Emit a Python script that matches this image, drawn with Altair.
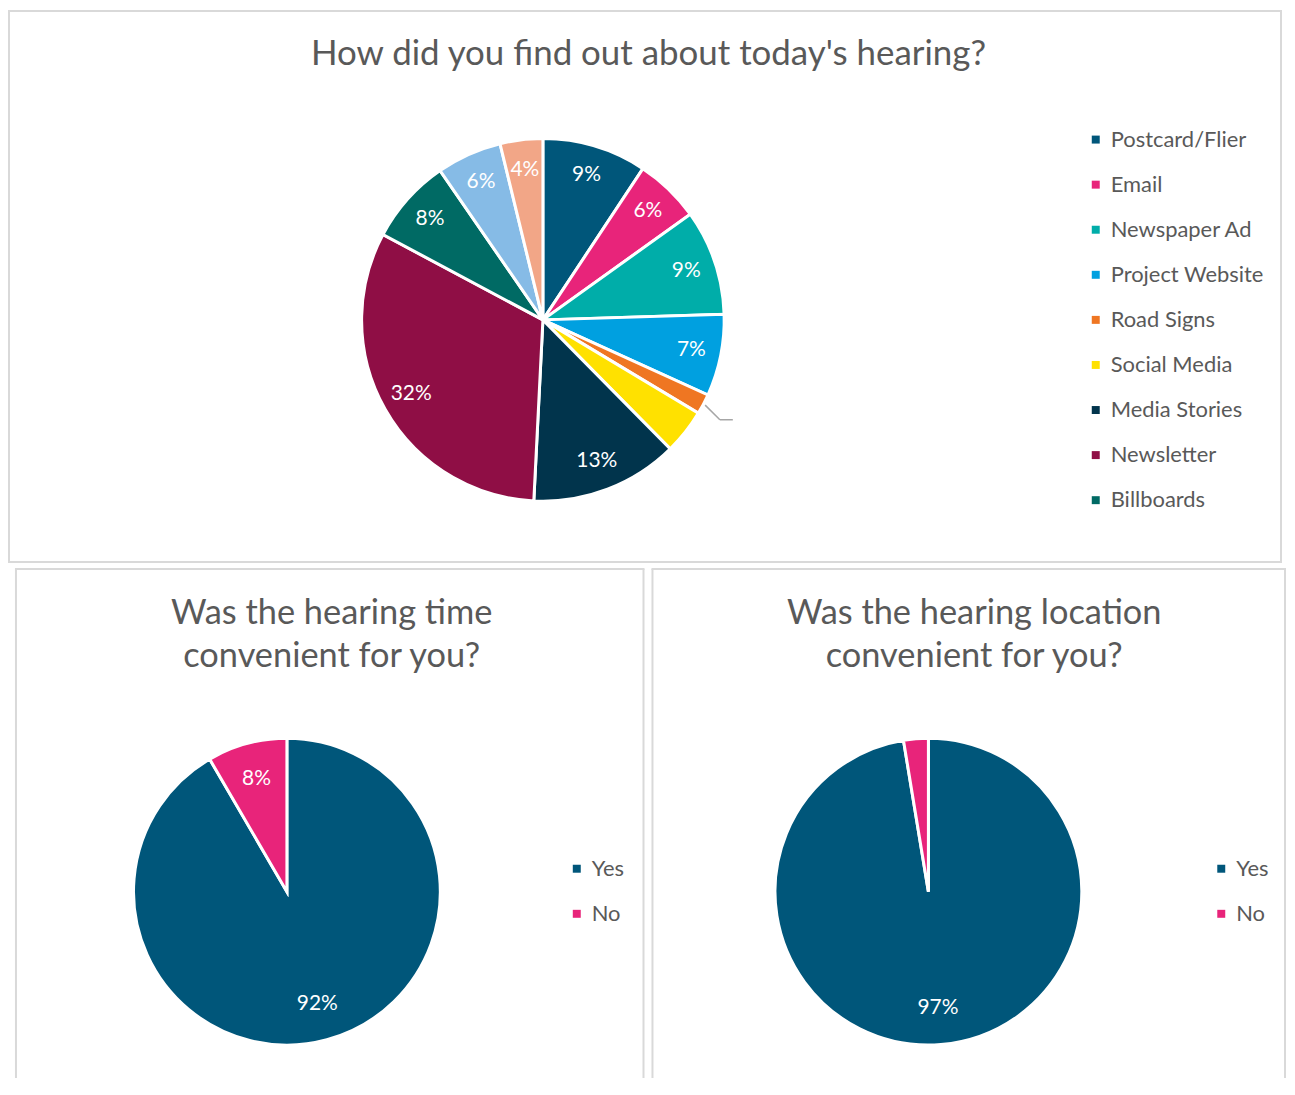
import altair as alt
import pandas as pd

FONT = "Lato"
TEXT_COLOR = "#595959"
BORDER = "#D9D9D9"

# ---- Data: top pie ----
src_categories = ["Postcard/Flier", "Email", "Newspaper Ad", "Project Website", "Road Signs",
                  "Social Media", "Media Stories", "Newsletter", "Billboards",
                  "Word of Mouth", "Other"]
src_values = [9.3, 5.8, 9.4, 7.3, 1.8, 4.0, 13.2, 32.0, 7.6, 5.8, 3.8]
src_labels = ["9%", "6%", "9%", "7%", "", "", "13%", "32%", "8%", "6%", "4%"]
src_colors = ["#00567A", "#E8247A", "#00ADA9", "#00A0E0", "#EF7622", "#FFE100",
              "#01344C", "#8F0E45", "#006A64", "#86BBE6", "#F2A687"]
legend_categories = src_categories[:9]

# ---- Data: bottom pies ----
yn_categories = ["Yes", "No"]
yn_colors = ["#00567A", "#E8247A"]
time_values = [91.6, 8.4]
time_labels = ["92%", "8%"]
loc_values = [97.4, 2.6]
loc_labels = ["97%", ""]

title_top = "How did you find out about today's hearing?"
title_time = ["Was the hearing time", "convenient for you?"]
title_loc = ["Was the hearing location", "convenient for you?"]


def legend(x, y, values=None):
    kw = dict(orient="none", legendX=x, legendY=y, title=None, labelFont=FONT,
              labelFontSize=22, labelColor=TEXT_COLOR, symbolType="square",
              symbolSize=64, symbolStrokeWidth=0, labelOffset=4, rowPadding=23.25,
              padding=0)
    if values is not None:
        kw["values"] = values
    return alt.Legend(**kw)


def title_layer(text, x, y):
    df = pd.DataFrame({"t": [text]})
    kw = dict(font=FONT, fontSize=35, color=TEXT_COLOR, align="center",
              baseline="alphabetic")
    if isinstance(text, list):
        kw["lineHeight"] = 43.5
        kw["fontSize"] = 34.5
    return alt.Chart(df).mark_text(**kw).encode(text="t:N", x=alt.value(x), y=alt.value(y))


# ---- Top panel ----
top_df = pd.DataFrame({"cat": src_categories, "val": src_values,
                       "label": src_labels, "idx": list(range(len(src_values)))})
TW, TH = 1277, 553
tcx, tcy = 536, 310
TR = 182
top_base = alt.Chart(top_df).encode(
    theta=alt.Theta("val:Q", stack=True),
    order=alt.Order("idx:Q", sort="ascending"),
)
top_arc = top_base.mark_arc(outerRadius=TR, stroke="white", strokeWidth=3).encode(
    color=alt.Color("cat:N", scale=alt.Scale(domain=src_categories, range=src_colors),
                    legend=legend(1080, 118, legend_categories)),
    x=alt.value(tcx), y=alt.value(tcy),
)
top_text = top_base.mark_text(radius=152, font=FONT, fontSize=21, color="white",
                              align="center", baseline="middle").encode(
    detail="cat:N", text="label:N", x=alt.value(tcx), y=alt.value(tcy),
)

# leader line for the (unlabelled) Road Signs slice, derived from the stacked data
leader = alt.Chart(top_df).transform_joinaggregate(
    total="sum(val)"
).transform_window(
    cum="sum(val)", sort=[alt.SortField("idx")], frame=[None, 0]
).transform_calculate(
    ang="2*PI*(datum.cum - datum.val/2)/datum.total"
).transform_filter(
    alt.datum.cat == "Road Signs"
).transform_calculate(
    xa=f"{tcx} + {TR + 2}*sin(datum.ang)", ya=f"{tcy} - {TR + 2}*cos(datum.ang)",
    xb=f"{tcx} + {TR + 22}*sin(datum.ang + 0.03)", yb=f"{tcy} - {TR + 22}*cos(datum.ang + 0.03)",
)
leader_diag = leader.mark_rule(color="#A6A6A6", strokeWidth=1.5).encode(
    x=alt.X("xa:Q", scale=None, axis=None), y=alt.Y("ya:Q", scale=None, axis=None),
    x2="xb:Q", y2="yb:Q",
)
leader_flat = leader.transform_calculate(xc="datum.xb + 13").mark_rule(
    color="#A6A6A6", strokeWidth=1.5).encode(
    x=alt.X("xb:Q", scale=None, axis=None), y=alt.Y("yb:Q", scale=None, axis=None),
    x2="xc:Q",
)

top = alt.layer(top_arc, top_text, leader_diag, leader_flat,
                title_layer(title_top, 642, 54)).properties(
    width=TW, height=TH,
    view=alt.ViewBackground(stroke=BORDER, strokeWidth=2),
)


def yn_panel(values, labels, title, W, cx, cy, lx, ly, H, tx):
    df = pd.DataFrame({"ans": yn_categories, "val": values, "label": labels,
                       "idx": [0, 1]})
    base = alt.Chart(df).encode(
        theta=alt.Theta("val:Q", stack=True),
        order=alt.Order("idx:Q", sort="ascending"),
    )
    arc = base.mark_arc(outerRadius=154, stroke="white", strokeWidth=3).encode(
        color=alt.Color("ans:N", scale=alt.Scale(domain=yn_categories, range=yn_colors),
                        legend=legend(lx, ly)),
        x=alt.value(cx), y=alt.value(cy),
    )
    txt = base.mark_text(radius=117, font=FONT, fontSize=21, color="white",
                         align="center", baseline="middle").encode(
        detail="ans:N", text="label:N", x=alt.value(cx), y=alt.value(cy),
    )
    edge_df = pd.DataFrame({"e": [0]})
    left = alt.Chart(edge_df).mark_rule(color=BORDER, strokeWidth=2).encode(
        x=alt.value(1), y=alt.value(1), y2=alt.value(H))
    right = alt.Chart(edge_df).mark_rule(color=BORDER, strokeWidth=2).encode(
        x=alt.value(W - 1), y=alt.value(1), y2=alt.value(H))
    topedge = alt.Chart(edge_df).mark_rule(color=BORDER, strokeWidth=2).encode(
        x=alt.value(0), x2=alt.value(W), y=alt.value(1))
    return alt.layer(left, right, topedge, arc, txt,
                     title_layer(title, tx, 56)).properties(
        width=W, height=H,
        view=alt.ViewBackground(strokeOpacity=0),
    )


BH = 512
bl = yn_panel(time_values, time_labels, title_time, 632, 273, 325, 553, 291, BH, 318)
br = yn_panel(loc_values, loc_labels, title_loc, 637, 278, 325, 561, 291, BH, 324)

spacer = alt.Chart(pd.DataFrame({"e": [0]})).mark_rule(strokeOpacity=0, strokeWidth=0).encode(
    x=alt.value(0), y=alt.value(1), y2=alt.value(2)
).properties(width=1, height=BH, view=alt.ViewBackground(strokeOpacity=0))

bottom = alt.hconcat(
    spacer,
    alt.hconcat(bl, br, spacing=5).resolve_scale(color="independent", theta="independent")
    .resolve_legend(color="independent"),
    spacing=4,
).resolve_scale(color="independent", theta="independent").resolve_legend(color="independent")

chart = alt.vconcat(top, bottom, spacing=5).resolve_scale(
    color="independent", theta="independent"
).resolve_legend(color="independent").properties(
    padding=0, background="white"
).configure_view(stroke=BORDER)

chart.save("out.html", embed_options={"renderer": "svg", "actions": False})
